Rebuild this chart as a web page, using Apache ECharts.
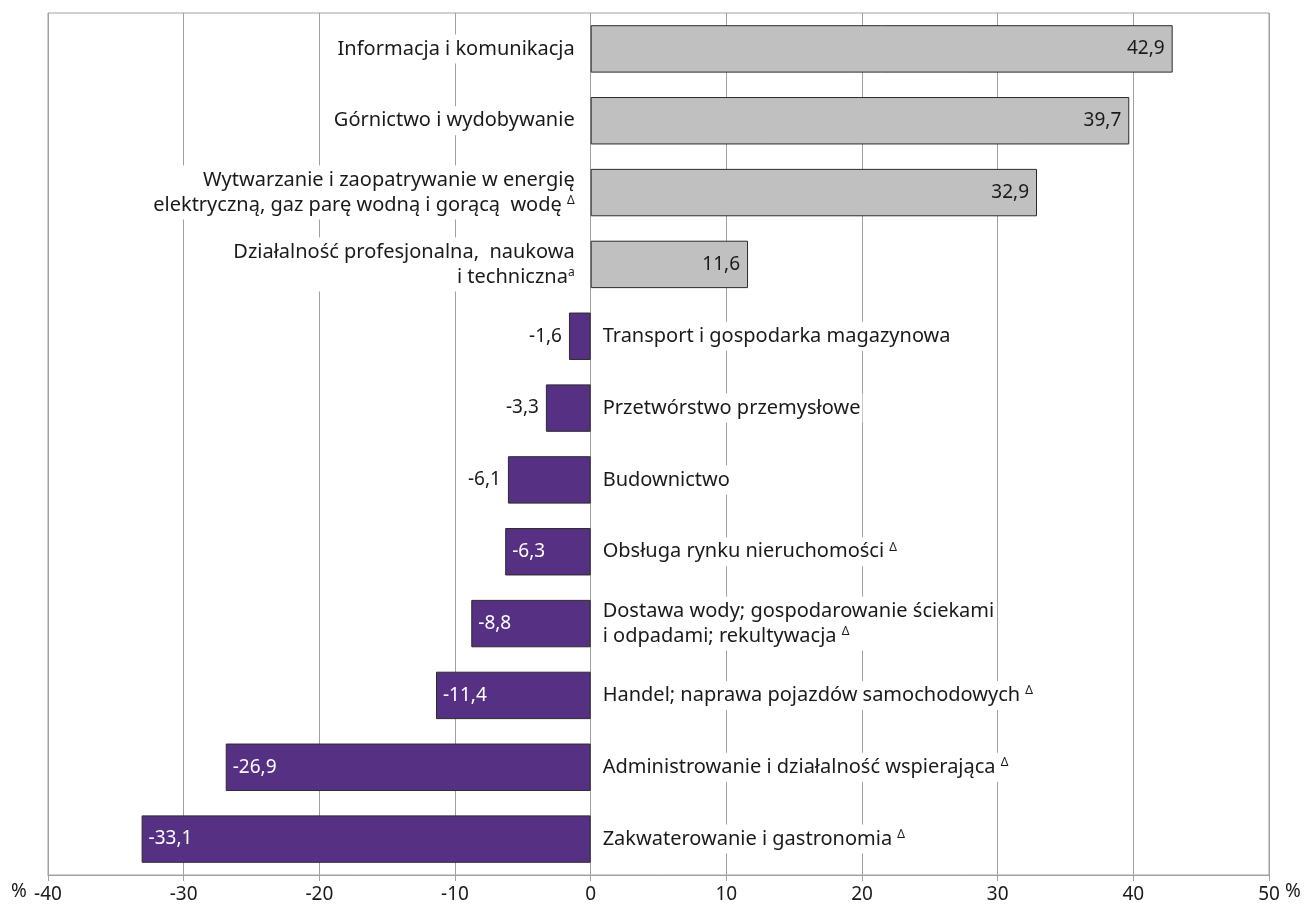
<!DOCTYPE html>
<html style="height: 100%">
<head>
    <meta charset="utf-8">
    <script src="https://cdn.jsdelivr.net/npm/echarts@6/dist/echarts.min.js"></script>
</head>
<body style="height: 100%; margin: 0">
    <div id="main" style="width: 1306px; height: 909px"></div>
    <script type="text/javascript">
        // dane
        var categories = [
            'Informacja i komunikacja',
            'Górnictwo i wydobywanie',
            'Wytwarzanie i zaopatrywanie w energię\nelektryczną, gaz parę wodną i gorącą  wodę {s|Δ}',
            'Działalność profesjonalna,  naukowa\ni techniczna{s|a}',
            'Transport i gospodarka magazynowa',
            'Przetwórstwo przemysłowe',
            'Budownictwo',
            'Obsługa rynku nieruchomości {s|Δ}',
            'Dostawa wody; gospodarowanie ściekami\ni odpadami; rekultywacja {s|Δ}',
            'Handel; naprawa pojazdów samochodowych {s|Δ}',
            'Administrowanie i działalność wspierająca {s|Δ}',
            'Zakwaterowanie i gastronomia {s|Δ}'
        ];
        var values = [42.9, 39.7, 32.9, 11.6, -1.6, -3.3, -6.1, -6.3, -8.8, -11.4, -26.9, -33.1];
        // etykiety wartosci ujemnych poza slupkiem (czarne)
        var outsideLabels = [false, false, false, false, true, true, true, false, false, false, false, false];

        var FONT = 'Noto Sans';
        var myChart = echarts.init(document.getElementById('main'));

        var barData = values.map(function (v, i) {
            var pos = v >= 0;
            var label;
            if (pos) {
                label = { position: 'insideRight', color: '#1a1a1a', distance: 8 };
            } else if (outsideLabels[i]) {
                label = { position: 'left', color: '#1a1a1a', distance: 7 };
            } else {
                label = { position: 'insideLeft', color: '#fff', distance: 7 };
            }
            return {
                value: v,
                itemStyle: {
                    color: pos ? '#c0c0c0' : '#563183',
                    borderColor: '#2b2b2b',
                    borderWidth: 1
                },
                label: label
            };
        });

        var nameData = values.map(function (v, i) {
            return {
                value: v,
                label: {
                    position: v >= 0 ? 'left' : 'right',
                    distance: v >= 0 ? 14 : 10
                }
            };
        });

        var option = {
            animation: false,
            textStyle: { fontFamily: FONT },
            grid: {
                left: 48,
                right: 37,
                top: 13,
                bottom: 34,
                show: true,
                borderColor: '#a0a0a0',
                borderWidth: 1
            },
            xAxis: {
                type: 'value',
                min: -40,
                max: 50,
                interval: 10,
                axisLine: { show: true, lineStyle: { color: '#a0a0a0' } },
                axisTick: { show: true, length: 6, lineStyle: { color: '#a0a0a0' } },
                splitLine: { lineStyle: { color: '#a0a0a0' } },
                axisLabel: { color: '#1a1a1a', fontSize: 19, fontFamily: FONT, margin: 10 }
            },
            yAxis: {
                type: 'category',
                data: categories,
                inverse: true,
                show: false
            },
            graphic: [
                { type: 'text', left: 11, top: 882, style: { text: '%', fontSize: 19, fontFamily: FONT, fill: '#1a1a1a' } },
                { type: 'text', left: 1285, top: 882, style: { text: '%', fontSize: 19, fontFamily: FONT, fill: '#1a1a1a' } }
            ],
            series: [{
                type: 'bar',
                data: barData,
                barWidth: '66%',
                z: 3,
                label: {
                    show: true,
                    fontSize: 19,
                    fontFamily: FONT,
                    formatter: function (p) { return String(p.value).replace('.', ','); }
                }
            }, {
                type: 'bar',
                data: nameData,
                barWidth: '66%',
                barGap: '-100%',
                z: 4,
                silent: true,
                itemStyle: { color: 'rgba(0,0,0,0)' },
                label: {
                    show: true,
                    fontSize: 20,
                    fontFamily: FONT,
                    color: '#1a1a1a',
                    lineHeight: 25,
                    backgroundColor: '#fff',
                    padding: [2, 2],
                    formatter: function (p) { return categories[p.dataIndex]; },
                    rich: {
                        s: { fontSize: 12, fontFamily: FONT, color: '#1a1a1a', padding: [0, 0, 9, 0] }
                    }
                }
            }]
        };
        myChart.setOption(option);
    </script>
</body>
</html>
